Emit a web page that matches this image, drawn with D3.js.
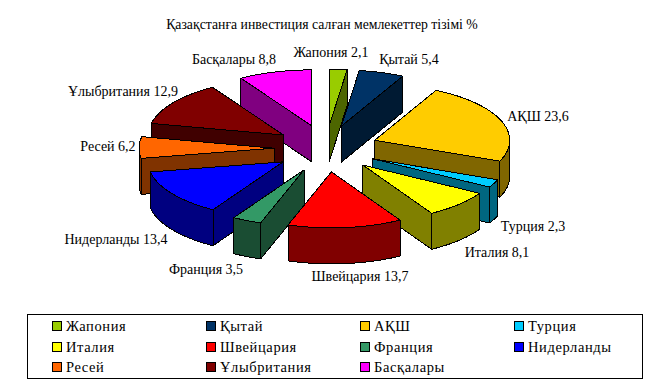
<!DOCTYPE html>
<html><head><meta charset="utf-8">
<script src="https://cdnjs.cloudflare.com/ajax/libs/d3/7.8.5/d3.min.js"></script>
<style>html,body{margin:0;padding:0;background:#fff}svg{display:block}text{font-family:"Liberation Serif","Times New Roman",serif;fill:#000}</style>
</head><body><svg id="c" width="648" height="383"></svg>
<script>
const titleText = "Қазақстанға инвестиция салған мемлекеттер тізімі %";
const categories = ["Жапония","Қытай","АҚШ","Турция","Италия","Швейцария","Франция","Нидерланды","Ресей","Ұлыбритания","Басқалары"];
const values = [2.1,5.4,23.6,2.3,8.1,13.7,3.5,13.4,6.2,12.9,8.8];
const colors = ["#99CC00","#003366","#FFCC00","#00CCFF","#FFFF00","#FF0000","#339966","#0000FF","#FF6600","#800000","#FF00FF"];
const sideColors = ["#4D6600","#001A33","#806600","#006680","#808000","#800000","#1A4D33","#000080","#803300","#400000","#800080"];

// layout (separate from the data)
const cx=326, cy=148.5, rx=135, ry=56, depth=36, ex=52, ey=23.5;
const labelCentres = [[331,52],[409,59],[538,116],[533,226],[497,252],[360,276],[206,269],[116,239],[108,146],[123,91],[234,59]];
const legendBox = {x:27.5,y:314.5,w:615,h:64};
const legendCols=[52,206,360,514], legendRows=[326,347,367];

const svg=d3.select("#c");
const fmt=v=>String(v).replace(".",",");
svg.append("text").attr("x",322).attr("y",29).attr("text-anchor","middle").attr("font-size",13.75).text(titleText);

const arcs=d3.pie().sort(null).value(d=>d)(values);
const slices=arcs.map((a,i)=>{
  const mid=(a.startAngle+a.endAngle)/2;
  return {i,a,ax:cx+ex*Math.sin(mid),ay:cy-ey*Math.cos(mid)};
});
const pt=(s,t)=>[s.ax+rx*Math.sin(t),s.ay-ry*Math.cos(t)];
const line=d3.line();
const arcPts=(s,t0,t1)=>d3.range(0,41).map(k=>pt(s,t0+(t1-t0)*k/40));
const g=svg.append("g").attr("stroke","#000").attr("stroke-width",1).attr("stroke-linejoin","round").style("shape-rendering","crispEdges");
const wall=(top,fill)=>{
  const bottom=top.map(p=>[p[0],p[1]+depth]).reverse();
  g.append("path").attr("d",line(top.concat(bottom))+"Z").attr("fill",fill);
};
slices.slice().sort((p,q)=>p.ay-q.ay).forEach(s=>{
  const t0=s.a.startAngle,t1=s.a.endAngle,side=sideColors[s.i],apex=[s.ax,s.ay];
  const p0=pt(s,t0),p1=pt(s,t1);
  // radial walls facing the viewer
  if(p0[0]<apex[0]) wall([apex,p0],side);
  if(p1[0]>apex[0]) wall([p1,apex],side);
  // rim between 90 and 270 degrees is what faces the viewer
  const lo=Math.max(t0,Math.PI/2),hi=Math.min(t1,Math.PI*1.5);
  if(hi>lo) wall(arcPts(s,lo,hi),side);
  g.append("path").attr("d",line([apex].concat(arcPts(s,t0,t1)))+"Z").attr("fill",colors[s.i]);
});

svg.append("g").selectAll("text").data(categories).join("text")
  .attr("x",(d,i)=>labelCentres[i][0]).attr("y",(d,i)=>labelCentres[i][1]+5)
  .attr("text-anchor","middle").attr("font-size",14)
  .text((d,i)=>d+" "+fmt(values[i]));

svg.append("rect").attr("x",legendBox.x).attr("y",legendBox.y).attr("width",legendBox.w).attr("height",legendBox.h)
  .attr("fill","#fff").attr("stroke","#000");
const lg=svg.append("g").selectAll("g").data(categories).join("g")
  .attr("transform",(d,i)=>`translate(${legendCols[i%4]},${legendRows[Math.floor(i/4)]})`);
lg.append("rect").attr("x",.5).attr("y",-4.5).attr("width",9).attr("height",9).attr("fill",(d,i)=>colors[i]).attr("stroke","#000").style("shape-rendering","crispEdges");
lg.append("text").attr("x",14).attr("y",5).attr("font-size",14.5).attr("letter-spacing",0.6).text(d=>d);
</script></body></html>
